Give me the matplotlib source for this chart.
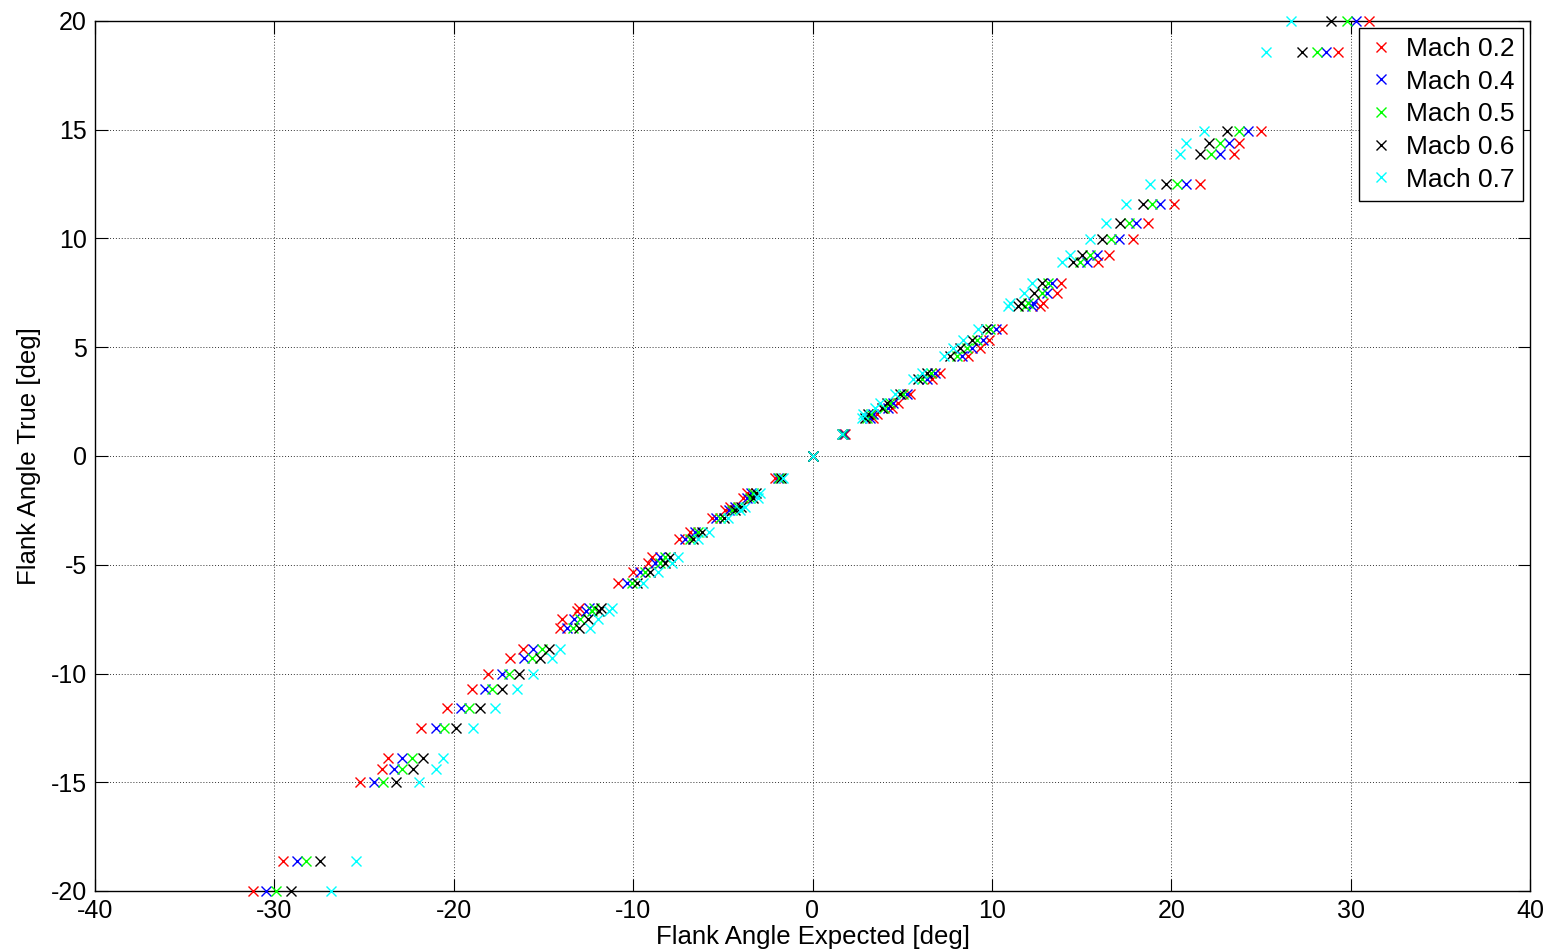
import matplotlib
matplotlib.use("Agg")
import matplotlib.pyplot as plt

plt.rcParams['font.family'] = ['Liberation Sans', 'DejaVu Sans']

# True flank angle of each test row [deg]
flank_true = [20.0, 18.57, 14.96, 14.41, 13.87, 12.49, 11.57, 10.7, 9.96, 9.26, 8.9,
              7.95, 7.48, 7.02, 6.91, 5.82, 5.33, 4.95, 4.6, 3.81, 3.52, 2.85, 2.42,
              2.2, 1.93, 1.73, 1.0, 0.0, -1.0, -1.72, -1.95, -2.33, -2.5, -2.85, -3.48,
              -3.83, -4.63, -4.93, -5.32, -5.85, -6.98, -7.13, -7.5, -7.92, -8.89,
              -9.27, -10.02, -10.73, -11.57, -12.5, -13.9, -14.41, -15.0, -18.6, -20.0]

# Expected flank angle for each Mach number [deg]
expected_m02 = [31.0, 29.3, 25.0, 23.8, 23.5, 21.6, 20.15, 18.7, 17.85, 16.55, 15.9,
                13.85, 13.65, 12.87, 12.68, 10.58, 9.84, 9.34, 8.69, 7.11, 6.64, 5.43,
                4.78, 4.45, 3.58, 3.39, 1.81, 0.0, -2.09, -3.67, -3.86, -4.6, -4.9,
                -5.62, -6.83, -7.44, -8.96, -9.15, -10.02, -10.82, -13.0, -13.14,
                -13.98, -14.07, -16.12, -16.86, -18.07, -19.0, -20.39, -21.8, -23.65,
                -24.01, -25.22, -29.5, -31.2]
expected_m04 = [30.3, 28.6, 24.3, 23.2, 22.7, 20.8, 19.4, 18.05, 17.1, 15.85, 15.3,
                13.35, 13.1, 12.31, 12.22, 10.21, 9.49, 8.87, 8.32, 6.83, 6.36, 5.25,
                4.5, 4.2, 3.39, 3.2, 1.75, 0.0, -1.95, -3.44, -3.65, -4.33, -4.65,
                -5.36, -6.55, -7.1, -8.5, -8.78, -9.62, -10.36, -12.47, -12.6, -13.29,
                -13.7, -15.56, -16.08, -17.32, -18.26, -19.61, -21.0, -22.86, -23.31,
                -24.43, -28.75, -30.46]
expected_m05 = [29.8, 28.1, 23.8, 22.7, 22.2, 20.3, 18.95, 17.65, 16.65, 15.45, 14.9,
                13.15, 12.77, 12.03, 11.85, 9.9, 9.19, 8.6, 8.04, 6.59, 6.1, 5.06,
                4.32, 4.0, 3.24, 3.05, 1.7, 0.0, -1.85, -3.3, -3.5, -4.18, -4.5,
                -5.16, -6.37, -6.83, -8.22, -8.5, -9.34, -10.08, -12.16, -12.3,
                -12.96, -13.35, -15.1, -15.65, -16.9, -17.88, -19.13, -20.55, -22.34,
                -22.86, -23.92, -28.23, -29.93]
expected_m06 = [28.9, 27.3, 23.1, 22.1, 21.6, 19.7, 18.4, 17.15, 16.15, 15.05, 14.5,
                12.8, 12.33, 11.6, 11.47, 9.65, 8.87, 8.22, 7.66, 6.36, 5.9, 4.88,
                4.13, 3.85, 3.11, 2.9, 1.66, 0.0, -1.75, -3.15, -3.3, -4.0, -4.3,
                -4.94, -6.18, -6.64, -7.94, -8.22, -9.06, -9.8, -11.8, -11.88, -12.52,
                -13.0, -14.67, -15.19, -16.34, -17.32, -18.53, -19.9, -21.73, -22.28,
                -23.23, -27.45, -29.07]
expected_m07 = [26.7, 25.3, 21.8, 20.8, 20.5, 18.8, 17.5, 16.35, 15.45, 14.35, 13.9,
                12.25, 11.79, 11.0, 10.91, 9.21, 8.41, 7.85, 7.33, 6.09, 5.59, 4.6,
                3.76, 3.5, 2.83, 2.74, 1.63, 0.0, -1.63, -2.93, -3.02, -3.76, -4.04,
                -4.73, -5.76, -6.37, -7.48, -7.85, -8.6, -9.43, -11.2, -11.33, -11.98,
                -12.4, -14.07, -14.5, -15.6, -16.49, -17.7, -18.92, -20.58, -21.0,
                -21.93, -25.45, -26.84]

series_labels = ['Mach 0.2', 'Mach 0.4', 'Mach 0.5', 'Macb 0.6', 'Mach 0.7']
series_colors = ['#ff0000', '#0000ff', '#00ff00', '#000000', '#00ffff']
series_x = [expected_m02, expected_m04, expected_m05, expected_m06, expected_m07]

x_ticks = [-40, -30, -20, -10, 0, 10, 20, 30, 40]
y_ticks = [-20, -15, -10, -5, 0, 5, 10, 15, 20]

fig = plt.figure(figsize=(15.51, 9.51), dpi=100)
ax = fig.add_axes([95 / 1551, 1 - 891 / 951, 1435 / 1551, 870 / 951])

for xs, col, lab in zip(series_x, series_colors, series_labels):
    ax.plot(xs, flank_true, linestyle='none', marker='x', markersize=7.5,
            markeredgewidth=1.0, color=col, label=lab, zorder=3, clip_on=False)

ax.set_xlim(-40, 40)
ax.set_ylim(-20, 20)
ax.set_xticks(x_ticks)
ax.set_yticks(y_ticks)
ax.set_xticklabels([str(v) for v in x_ticks])
ax.set_yticklabels([str(v) for v in y_ticks])
ax.tick_params(direction='in', length=9, width=0.8, top=True, right=True,
               labelsize=18, colors='black', pad=6)
ax.grid(True, linestyle=(0, (1, 2)), color='#333333', linewidth=0.7)
ax.set_axisbelow(True)
for sp in ax.spines.values():
    sp.set_linewidth(1.0)
    sp.set_color('black')

ax.set_xlabel('Flank Angle Expected [deg]', fontsize=18.5, labelpad=1)
ax.set_ylabel('Flank Angle True [deg]', fontsize=18.5, labelpad=7)

leg = ax.legend(loc='upper right', fontsize=19, frameon=True, fancybox=False,
                framealpha=1.0, edgecolor='black', borderpad=0.35, labelspacing=0.33,
                handlelength=1.0, handletextpad=0.42, borderaxespad=0.25,
                markerscale=1.0)
leg.get_frame().set_linewidth(1.0)
leg.set_zorder(5)

fig.savefig('out.png', dpi=100)
